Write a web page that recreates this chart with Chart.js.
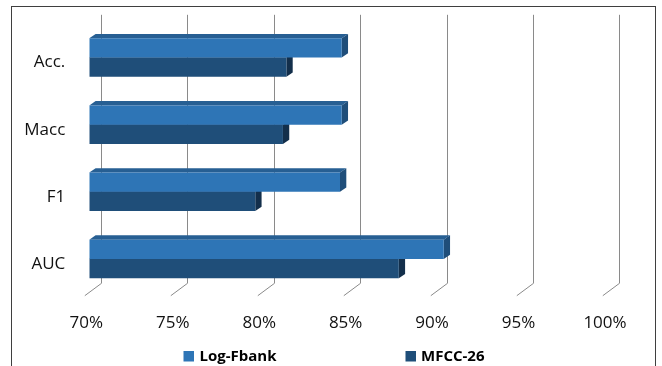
<!DOCTYPE html>
<html>
<head>
<meta charset="utf-8">
<script src="https://cdn.jsdelivr.net/npm/chart.js@4/dist/chart.umd.min.js"></script>
<style>
  html, body { margin: 0; padding: 0; background: #fff; }
  #wrap { width: 662px; height: 366px; position: relative; }
</style>
</head>
<body>
<div id="wrap"><canvas id="c" width="662" height="366"></canvas></div>
<script>
// Metrics compared between the two feature sets (percent)
const categories = ['Acc.', 'Macc', 'F1', 'AUC'];
const logFbank = [84.6, 84.6, 84.5, 90.5];
const mfcc26 = [81.4, 81.2, 79.6, 87.9];
const seriesNames = ['Log-Fbank', 'MFCC-26'];
const tickValues = [70, 75, 80, 85, 90, 95, 100];

// Face colours: front, top, side
const palette = [
  { front: '#2E75B6', top: '#275F93', side: '#1F4E7A' },
  { front: '#1F4E79', top: '#1A4166', side: '#132F4B' }
];

const FONT = "'Open Sans', 'DejaVu Sans', sans-serif";

// Depth of the bars themselves and of the back wall behind them
const BAR_DX = 6.3, BAR_DY = 4.3;
const WALL_DX = 11.4, WALL_DY = 9.2;
const FLOOR_DX = 16.7, FLOOR_DY = 12.4;

const frame3d = {
  id: 'frame3d',
  beforeDraw(chart) {
    const ctx = chart.ctx;
    ctx.save();
    ctx.strokeStyle = '#3f3f3f';
    ctx.lineWidth = 1;
    ctx.strokeRect(11.5, 6.5, 644, 420);
    ctx.restore();
  },
  beforeDatasetsDraw(chart) {
    const ctx = chart.ctx;
    const xs = chart.scales.x;
    const area = chart.chartArea;
    ctx.save();
    // back-wall gridlines with their floor diagonals
    ctx.strokeStyle = '#8a8a8a';
    ctx.lineWidth = 1;
    tickValues.forEach(v => {
      const bx = Math.round(xs.getPixelForValue(v) + WALL_DX) + 0.5;
      const top = area.top - WALL_DY;
      const bot = area.bottom - WALL_DY;
      ctx.beginPath();
      ctx.moveTo(bx, top);
      ctx.lineTo(bx, bot);
      ctx.lineTo(bx - FLOOR_DX, bot + FLOOR_DY);
      ctx.stroke();
    });
    // top and side faces of each bar; front faces are drawn over them
    chart.data.datasets.forEach((ds, di) => {
      const meta = chart.getDatasetMeta(di);
      const col = palette[di];
      meta.data.forEach(bar => {
        const p = bar.getProps(['x', 'y', 'base', 'height'], true);
        const t = p.y - p.height / 2, b = p.y + p.height / 2;
        const start = Math.max(p.base, area.left);
        ctx.fillStyle = col.top;
        ctx.beginPath();
        ctx.moveTo(start, t);
        ctx.lineTo(start + BAR_DX, t - BAR_DY);
        ctx.lineTo(p.x + BAR_DX, t - BAR_DY);
        ctx.lineTo(p.x, t);
        ctx.closePath();
        ctx.fill();
        ctx.fillStyle = col.side;
        ctx.beginPath();
        ctx.moveTo(p.x, t);
        ctx.lineTo(p.x + BAR_DX, t - BAR_DY);
        ctx.lineTo(p.x + BAR_DX, b - BAR_DY);
        ctx.lineTo(p.x, b);
        ctx.closePath();
        ctx.fill();
      });
    });
    ctx.restore();
  },
  afterDraw(chart) {
    // legend row
    const ctx = chart.ctx;
    const pos = [{ box: 183.5, text: 199.5 }, { box: 405.5, text: 421 }];
    ctx.save();
    ctx.font = "bold 15px " + FONT;
    ctx.textBaseline = 'middle';
    chart.data.datasets.forEach((ds, i) => {
      ctx.fillStyle = ds.backgroundColor;
      ctx.fillRect(pos[i].box, 351, 10.5, 10.5);
      ctx.fillStyle = '#000';
      ctx.fillText(ds.label, pos[i].text, 356.5);
    });
    ctx.restore();
  }
};

function noPadding(s) {
  s.paddingTop = 0; s.paddingBottom = 0; s.paddingLeft = 0; s.paddingRight = 0;
}

new Chart(document.getElementById('c'), {
  type: 'bar',
  data: {
    labels: categories,
    datasets: [
      { label: seriesNames[0], data: logFbank, backgroundColor: palette[0].front, base: 70 },
      { label: seriesNames[1], data: mfcc26, backgroundColor: palette[1].front, base: 70 }
    ]
  },
  options: {
    indexAxis: 'y',
    responsive: false,
    animation: false,
    devicePixelRatio: 1,
    categoryPercentage: 0.575,
    barPercentage: 1,
    layout: { padding: { top: 24, right: 54, bottom: 23.5, left: 0 } },
    plugins: { legend: { display: false }, tooltip: { enabled: false } },
    scales: {
      x: {
        min: 70, max: 100,
        grid: { display: false, drawTicks: false },
        border: { display: false },
        afterFit(s) { s.height = 50; noPadding(s); },
        afterBuildTicks(s) { s.ticks = tickValues.map(v => ({ value: v })); },
        ticks: {
          padding: 20,
          labelOffset: -3,
          color: '#111',
          font: { family: FONT, size: 17 },
          callback: v => v + '%'
        }
      },
      y: {
        grid: { display: false, drawTicks: false },
        border: { display: false },
        afterFit(s) { s.width = 89.3; noPadding(s); },
        ticks: {
          padding: 24,
          labelOffset: 5,
          color: '#111',
          font: { family: FONT, size: 17 }
        }
      }
    }
  },
  plugins: [frame3d]
});
</script>
</body>
</html>
